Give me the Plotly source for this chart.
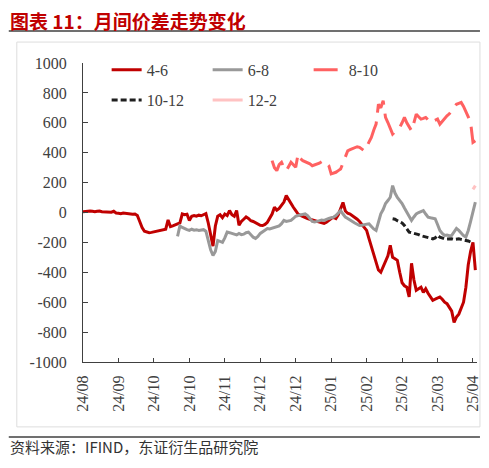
import plotly.graph_objects as go

# x is the trading-day index; a tick label every 15 days
tick_step = 15
tick_labels = ["24/08", "24/09", "24/10", "24/10", "24/11", "24/12",
               "24/12", "25/01", "25/02", "25/02", "25/03", "25/04"]

# 4-6 spread, starts at day 0
start_46 = 0
s46 = [5, 8, 10, 10, 8, 5, 8, 10, 5, 3, 5, 0, 2, 8, -3, -5, -8, -3, -5, -10,
       -8, -12, -10, -20, -60, -100, -125, -132, -135, -133, -130, -128, -125,
       -122, -118, -112, -50, -95, -90, -85, -78, -70, -10, -15, -12, -53, -25,
       -20, -25, -18, -22, -15, -8, -70, -160, -225, -90, -25, -15, -35, -10,
       -20, 13, -15, -25, 13, -85, -60, -45, -30, -40, -55, -60, -70, -75, -85,
       -87, -80, -65, -40, -10, 35, 15, 27, 45, 70, 113, 85, 60, 35, 13, -10,
       -20, -28, -35, -40, -45, -50, -55, -60, -65, -70, -73, -65, -50, -40,
       -33, -40, -15, 20, 67, 10, -5, -10, -20, -30, -45, -60, -80, -100, -120,
       -175, -230, -290, -340, -385, -400, -360, -330, -290, -220, -300, -310,
       -320, -400, -470, -490, -500, -565, -340, -450, -520, -510, -500, -535,
       -510, -540, -560, -587, -580, -570, -565, -580, -600, -610, -633, -660,
       -735, -700, -680, -640, -600, -500, -350, -260, -200, -385]

# 6-8 spread
start_68 = 40
s68 = [-160, -90, -100, -110, -115, -120, -112, -118, -115, -120, -118, -115,
       -125, -190, -250, -287, -260, -187, -195, -200, -170, -131, -135, -140,
       -145, -150, -140, -148, -145, -135, -131, -150, -165, -173, -160, -140,
       -130, -120, -107, -110, -105, -100, -98, -90, -75, -53, -60, -55, -53,
       -40, -25, -20, -15, -10, -9, -20, -40, -60, -64, -60, -55, -50, -53, -45,
       -40, -35, -31, -20, -5, 13, -10, -31, -40, -53, -60, -70, -80, -87, -85,
       -80, -78, -76, -95, -110, -120, -60, -9, 20, 60, 80, 102, 180, 130, 100,
       80, 60, 30, 2, -20, -53, -30, -9, 0, 5, 13, -10, -31, -35, -40, -42, -80,
       -120, -140, -153, -150, -155, -153, -130, -107, -120, -140, -155, -164,
       -120, -60, 2, 69]

# 8-10 spread
start_810 = 80
s810 = [347, 300, 280, 320, 336, 300, 280, 310, 336, 320, 302, 391, 360, 347,
        340, 336, 325, 313, 318, 324, 330, 340, 347, 330, 313, 258, 262, 269,
        280, 291, 330, 369, 413, 420, 425, 430, 440, 436, 425, 413, 440, 470,
        502, 550, 591, 724, 700, 747, 636, 602, 560, 524, 540, 555, 569, 600,
        636, 600, 570, 547, 600, 658, 640, 625, 630, 636, 620, 602, 610, 620,
        625, 591, 610, 630, 647, 660, 680, 700, 724, 730, 736, 710, 680, 640,
        602, 469, 480]

# 10-12 spread
start_1012 = 131
s1012 = [-42, -45, -55, -64, -70, -87, -110, -131, -135, -138, -142, -148,
         -155, -160, -164, -168, -172, -176, -170, -153, -165, -172, -176, -178,
         -175, -176, -180, -178, -176, -180, -183, -187, -190, -198, -209]

# 12-2 spread
start_122 = 165
s122 = [155, 180]

y_ticks = [1000, 800, 600, 400, 200, 0, -200, -400, -600, -800, -1000]

series = [
    ("4-6", start_46, s46, "#C00000", "solid", "legend"),
    ("6-8", start_68, s68, "#999999", "solid", "legend"),
    ("8-10", start_810, s810, "#FF6161", "24px,9px", "legend"),
    ("10-12", start_1012, s1012, "#1F1F1F", "6px,3px", "legend2"),
    ("12-2", start_122, s122, "#FFC2C2", "solid", "legend2"),
]

fig = go.Figure()
for name, start, vals, color, dash, leg in series:
    fig.add_trace(go.Scatter(
        x=list(range(start, start + len(vals))), y=vals, name=name,
        mode="lines", line=dict(color=color, width=3, dash=dash),
        legend=leg))

serif = "Liberation Serif"
legend_style = dict(orientation="h", xanchor="left", yanchor="middle",
                    entrywidth=56, entrywidthmode="pixels",
                    bgcolor="rgba(0,0,0,0)",
                    font=dict(family=serif, size=16, color="#404040"))

# page body has an 8px margin, so the figure is sized to fit the window
fig.update_layout(
    width=481, height=452,
    margin=dict(l=75, r=8, t=55, b=98),
    paper_bgcolor="white", plot_bgcolor="white",
    font=dict(family=serif, size=16, color="#404040"),
    legend=dict(x=0.06, y=0.977, **legend_style),
    legend2=dict(x=0.06, y=0.876, **legend_style),
    xaxis=dict(
        range=[0, 166.7], tickvals=[i * tick_step for i in range(len(tick_labels))],
        ticktext=tick_labels, tickangle=-90, ticks="inside", ticklen=4,
        tickcolor="#404040", showline=True, linecolor="#404040", linewidth=1,
        showgrid=False, zeroline=False, ticklabelstandoff=6,
    ),
    yaxis=dict(
        range=[-1000, 1000], tickvals=y_ticks, ticktext=[str(v) for v in y_ticks],
        ticks="inside", ticklen=5, tickcolor="#404040", showline=True,
        linecolor="#404040", linewidth=1, showgrid=False, zeroline=False,
        ticklabelstandoff=12,
    ),
)

# page frame: title rule, bottom rule and faint outer box
fig.add_shape(type="rect", xref="paper", yref="paper", x0=-0.168, x1=1.0075,
              y0=-0.217, y1=1.070, line=dict(color="#DDDDDD", width=1), layer="below")
fig.add_shape(type="line", xref="paper", yref="paper", x0=-0.1884, x1=1.0075,
              y0=1.107, y1=1.107, line=dict(color="#404040", width=1.5))
fig.add_shape(type="line", xref="paper", yref="paper", x0=-0.1884, x1=1.0075,
              y0=-0.251, y1=-0.251, line=dict(color="#404040", width=1.5))

fig.add_annotation(text="<b>图表 11：月间价差走势变化</b>", xref="paper", yref="paper",
                   x=-0.1884, y=1.184, xanchor="left", yanchor="top", showarrow=False,
                   height=22, valign="middle", borderpad=0,
                   font=dict(family="Noto Sans CJK SC", size=19, color="#C00000"))
fig.add_annotation(text="资料来源：IFIND，东证衍生品研究院", xref="paper", yref="paper",
                   x=-0.1884, y=-0.284, xanchor="left", yanchor="middle", showarrow=False,
                   borderpad=0,
                   font=dict(family="Noto Sans CJK SC", size=15, color="#333333"))

fig.write_html("out.html")
